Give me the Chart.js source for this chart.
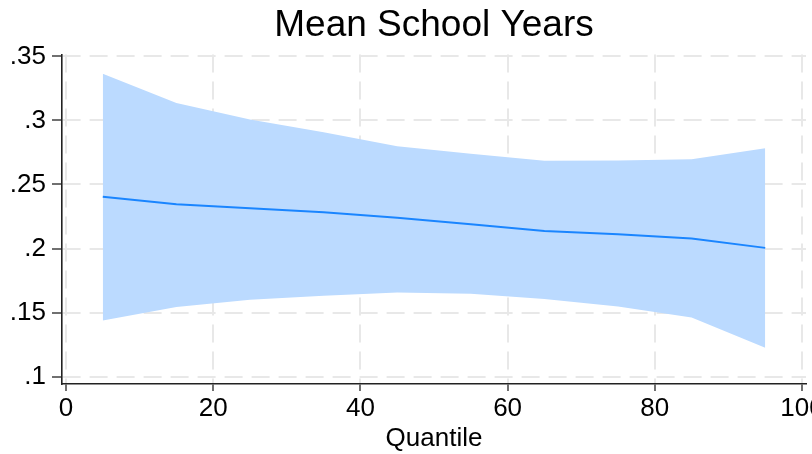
<!DOCTYPE html>
<html>
<head>
<meta charset="utf-8">
<script src="https://cdn.jsdelivr.net/npm/chart.js@4"></script>
<style>
  html, body { margin: 0; padding: 0; background: #fff; }
  #wrap { width: 812px; height: 454px; }
</style>
</head>
<body>
<div id="wrap"><canvas id="chart" width="812" height="454"></canvas></div>
<script>
// quantile regression estimates
const quantiles = [5, 15, 25, 35, 45, 55, 65, 75, 85, 95];
const coef  = [0.2404, 0.2345, 0.2314, 0.2283, 0.2241, 0.2189, 0.2137, 0.2111, 0.2079, 0.2005];
const upper = [0.3365, 0.3136, 0.3007, 0.2908, 0.2799, 0.2741, 0.2686, 0.2688, 0.2698, 0.2783];
const lower = [0.1438, 0.1543, 0.1600, 0.1631, 0.1657, 0.1646, 0.1605, 0.1547, 0.1462, 0.1226];
const xTicks = [0, 20, 40, 60, 80, 100];
const yTicks = [0.1, 0.15, 0.2, 0.25, 0.3, 0.35];
const titleText = 'Mean School Years';
const xTitle = 'Quantile';

const toPts = arr => quantiles.map((q, i) => ({ x: q, y: arr[i] }));
// stata style labels: .35 instead of 0.35
const fmt = v => String(+v.toFixed(2)).replace(/^0\./, '.');

Chart.defaults.font.family = "'Liberation Sans', Arial, sans-serif";
Chart.defaults.color = '#000';

const gridCol = '#e8e8e8';

new Chart(document.getElementById('chart'), {
  type: 'line',
  data: {
    datasets: [{
      label: 'coef',
      data: toPts(coef),
      borderColor: 'rgb(26,133,255)',
      borderWidth: 2,
      pointRadius: 0,
      fill: false
    }, {
      label: 'lower',
      data: toPts(lower),
      borderWidth: 0,
      borderColor: 'rgba(0,0,0,0)',
      pointRadius: 0,
      fill: false
    }, {
      label: 'upper',
      data: toPts(upper),
      borderWidth: 0,
      borderColor: 'rgba(0,0,0,0)',
      backgroundColor: 'rgb(187,218,255)',
      pointRadius: 0,
      fill: '-1'
    }]
  },
  options: {
    responsive: false,
    animation: false,
    layout: { padding: { left: 0, right: 6, top: 0, bottom: 0 } },
    plugins: {
      legend: { display: false },
      tooltip: { enabled: false },
      title: {
        display: true,
        fullSize: false,   // centre over the plot area, not the canvas
        text: titleText,
        font: { size: 37, weight: 'normal' },
        padding: { top: 4, bottom: 6 }
      }
    },
    scales: {
      x: {
        type: 'linear',
        min: -0.54,
        max: 100.54,
        afterBuildTicks: s => { s.ticks = xTicks.map(v => ({ value: v })); },
        afterFit: s => { s.height = 70; s.paddingLeft = 0; s.paddingRight = 0; },
        ticks: { font: { size: 26 }, padding: 2, maxRotation: 0, callback: v => String(v) },
        grid: { color: gridCol, lineWidth: 2, tickColor: '#222', tickWidth: 1.3, tickLength: 7 },
        border: { color: '#222', width: 1.6, dash: [18, 9] },
        title: { display: true, text: xTitle, font: { size: 26 }, padding: { top: 0, bottom: 0 } }
      },
      y: {
        min: 0.0942,
        max: 0.3516,
        afterBuildTicks: s => { s.ticks = yTicks.map(v => ({ value: v })); },
        afterFit: s => { s.width = 62; },
        ticks: { font: { size: 26 }, padding: 6, callback: v => fmt(v) },
        grid: { color: gridCol, lineWidth: 2, tickColor: '#222', tickWidth: 1.3, tickLength: 10 },
        border: { color: '#222', width: 1.6, dash: [18, 9] }
      }
    }
  }
});
</script>
</body>
</html>
